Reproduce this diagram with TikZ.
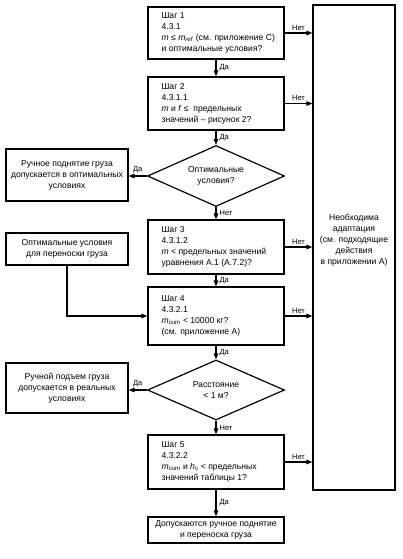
\documentclass[tikz,border=0pt]{standalone}
\usepackage{fontspec}
\setmainfont{Liberation Sans}
\usetikzlibrary{arrows.meta,shapes.geometric}
\begin{document}
\begin{tikzpicture}[x=1pt,y=-1pt,
  font=\fontsize{8.6}{11}\selectfont,
  every node/.style={inner sep=0pt},
  box/.style={draw,line width=1.2pt},
  stepbox/.style={box,minimum width=136pt},
  steptext/.style={anchor=west,align=left},
  sidebox/.style={box,minimum width=122pt,align=center},
  decision/.style={box,diamond,shape aspect=2.25,minimum width=137pt,minimum height=61pt,align=center},
  flow/.style={line width=1.2pt,-{Triangle[length=6pt,width=4.5pt]}},
  lab/.style={font=\fontsize{7.5}{8}\selectfont}
]
\useasboundingbox (0,0) rectangle (403,559);

\node[stepbox,minimum height=52pt] (s1) at (216,33) {};
\node[steptext] (t1) at ([xshift=14pt]s1.west) {Шаг 1\\4.3.1\\\textit{m} ≤ \textit{m}\textsubscript{\textit{ref}} (см. приложение С)\\и оптимальные условия?};
\node[stepbox,minimum height=53pt] (s2) at (216,103.5) {};
\node[steptext] (t2) at ([xshift=14pt]s2.west) {Шаг 2\\4.3.1.1\\\textit{m} и \textit{f} ≤ \ предельных\\значений – рисунок 2?};
\node[decision] (d1) at (216,176) {Оптимальные\\условия?};
\node[stepbox,minimum height=54pt] (s3) at (216,247) {};
\node[steptext] (t3) at ([xshift=14pt]s3.west) {Шаг 3\\4.3.1.2\\\textit{m} < предельных значений\\уравнения А.1 (А.7.2)?};
\node[stepbox,minimum height=58pt] (s4) at (216,316) {};
\node[steptext] (t4) at ([xshift=14pt]s4.west) {Шаг 4\\4.3.2.1\\\textit{m}\textsubscript{cum} < 10000 кг?\\(см. приложение А)};
\node[decision,minimum height=60pt] (d2) at (216,390) {Расстояние\\< 1 м?};
\node[stepbox,minimum height=54pt] (s5) at (216,462) {};
\node[steptext] (t5) at ([xshift=14pt]s5.west) {Шаг 5\\4.3.2.2\\\textit{m}\textsubscript{cum} и \textit{h}\textsubscript{c} < предельных\\значений таблицы 1?};
\node[box,minimum width=136pt,minimum height=26pt,align=center] (fin) at (216,530) {Допускаются ручное поднятие\\и переноска груза};

\node[sidebox,minimum height=52pt] (b1) at (67,175) {Ручное поднятие груза\\допускается в оптимальных\\условиях};
\node[sidebox,minimum height=32pt] (b2) at (67,249) {Оптимальные условия\\для переноски груза};
\node[sidebox,minimum height=50pt] (b3) at (67,388) {Ручной подъем груза\\допускается в реальных\\условиях};

\node[box,minimum width=82pt,minimum height=485pt] (R) at (354,247.5) {};
\node[align=center] (rt) at (354,240) {Необходима\\адаптация\\(см. подходящие\\действия\\в приложении А)};

\draw[flow] (s1) -- node[lab,right=3pt]{Да} (s2);
\draw[flow] (s2) -- node[lab,right=3pt]{Да} (d1);
\draw[flow] (d1) -- node[lab,right=3pt]{Нет} (s3);
\draw[flow] (s3) -- node[lab,right=3pt]{Да} (s4);
\draw[flow] (s4) -- node[lab,right=3pt]{Да} (d2);
\draw[flow] (d2) -- node[lab,right=3pt]{Нет} (s5);
\draw[flow] (s5) -- node[lab,right=3pt]{Да} (fin);

\draw[flow] (d1.west) -- node[lab,above=2pt]{Да} (d1.west -| b1.east);
\draw[flow] (d2.west) -- node[lab,above=2pt]{Да} (d2.west -| b3.east);
\draw[flow] (b2.south) |- (s4.west);

\foreach \s in {s1,s2,s3,s4,s5}
  \draw[flow] (\s.east) -- node[lab,above=2pt]{Нет} (\s.east -| R.west);
\end{tikzpicture}
\end{document}
